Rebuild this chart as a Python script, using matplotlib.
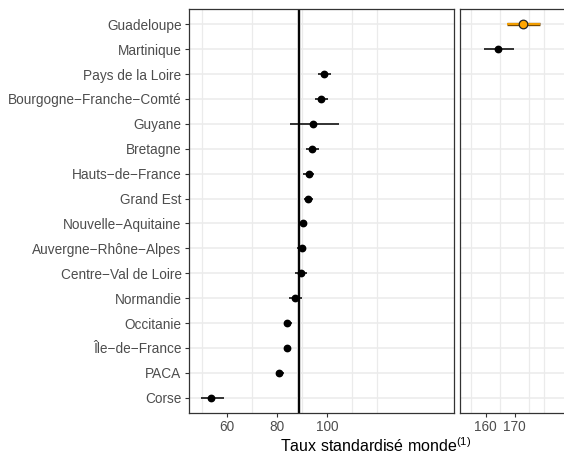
import matplotlib
matplotlib.use("Agg")
import matplotlib.pyplot as plt

plt.rcParams['font.family'] = ['Liberation Sans', 'DejaVu Sans']
plt.rcParams['mathtext.fontset'] = 'custom'
plt.rcParams['mathtext.rm'] = 'Liberation Sans'
plt.rcParams['mathtext.default'] = 'regular'

# régions, de haut en bas
regions = ["Guadeloupe", "Martinique", "Pays de la Loire", "Bourgogne\u2212Franche\u2212Comté",
           "Guyane", "Bretagne", "Hauts\u2212de\u2212France", "Grand Est", "Nouvelle\u2212Aquitaine",
           "Auvergne\u2212Rhône\u2212Alpes", "Centre\u2212Val de Loire", "Normandie", "Occitanie",
           "Île\u2212de\u2212France", "PACA", "Corse"]
taux = [172.9, 164.3, 98.8, 97.6, 94.3, 93.9, 92.6, 92.4, 90.2, 89.8, 89.5, 87.2, 84.0, 83.9, 80.8, 53.6]
ic_bas = [167.4, 159.3, 96.4, 95.2, 85.1, 91.5, 90.4, 90.7, 88.6, 88.0, 87.1, 84.8, 82.6, 82.8, 79.4, 49.5]
ic_haut = [178.8, 169.6, 101.4, 100.2, 104.6, 96.6, 94.8, 94.4, 92.0, 91.5, 92.0, 89.8, 85.8, 85.2, 82.8, 58.6]
outre_mer = [True, True] + [False] * 14
surligne = "Guadeloupe"

# valeur France entière et son intervalle
ref = 88.7
ref_bas, ref_haut = 88.0, 89.6

W, H = 564, 459
fig = plt.figure(figsize=(W / 100, H / 100), dpi=100)
ax1 = fig.add_axes([188.5 / W, 1 - 412.7 / H, (454 - 188.5) / W, (412.7 - 9.3) / H])
ax2 = fig.add_axes([459.7 / W, 1 - 412.7 / H, (570 - 459.7) / W, (412.7 - 9.3) / H])

grid_col = "#EBEBEB"
txt_col = "#4D4D4D"
n = len(regions)

for ax, xlim, ticks, minor in [(ax1, (44.5, 150.7), [60, 80, 100], [50, 70, 90, 110, 120]),
                               (ax2, (151.1, 189.0), [160, 170], [155, 165, 175, 180])]:
    ax.set_xlim(*xlim)
    ax.set_ylim(n - 1 + 0.6, -0.6)
    for y in range(n):
        ax.axhline(y, color=grid_col, lw=1.1, zorder=0)
    for x in minor:
        ax.axvline(x, color=grid_col, lw=0.9, zorder=0)
    ax.set_xticks(ticks)
    ax.tick_params(axis='x', length=3, width=0.8, color="#333333", labelcolor=txt_col,
                   labelsize=9.8, pad=2)
    for s in ax.spines.values():
        s.set_color("#333333")
        s.set_linewidth(0.9)

ax1.set_yticks(range(n))
ax1.set_yticklabels(regions)
ax1.tick_params(axis='y', length=3, width=0.8, color="#333333", labelcolor=txt_col,
                labelsize=9.8, pad=2)
ax2.set_yticks([])

# ligne de référence
ax1.axvspan(ref_bas, ref_haut, color="#D0D0D0", lw=0, zorder=1)
ax1.axvline(ref, color="black", lw=1.4, zorder=2)

for i, r in enumerate(regions):
    ax = ax2 if outre_mer[i] else ax1
    if r == surligne:
        ax.plot([ic_bas[i], ic_haut[i]], [i, i], color="#7A4A00", lw=2.4, zorder=3,
                solid_capstyle='butt')
        ax.plot([ic_bas[i], ic_haut[i]], [i, i], color="#F5A000", lw=1.4, zorder=4,
                solid_capstyle='butt')
        ax.plot(taux[i], i, 'o', ms=6.2, mfc="#FFA500", mec="#222222", mew=0.9, zorder=5)
    else:
        ax.plot([ic_bas[i], ic_haut[i]], [i, i], color="black", lw=1.1, zorder=3,
                solid_capstyle='butt')
        ax.plot(taux[i], i, 'o', ms=4.6, color="black", zorder=5)

fig.text(376 / W, 1 - 446 / H, "Taux standardisé monde$^{(1)}$", ha='center', va='center',
         fontsize=11.5, color="black")

fig.savefig("out.png", dpi=100)
